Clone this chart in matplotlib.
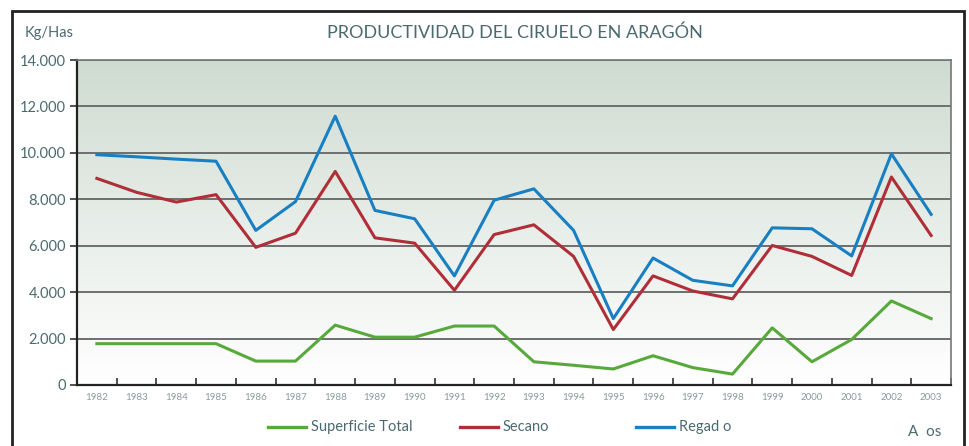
import numpy as np
import matplotlib.pyplot as plt
from matplotlib.patches import Rectangle
from matplotlib.lines import Line2D

years = [str(y) for y in range(1982, 2004)]
superficie = [1780, 1780, 1780, 1780, 1030, 1030, 2580, 2060, 2060, 2540, 2540,
              1000, 850, 690, 1260, 750, 470, 2460, 1000, 1960, 3620, 2860]
secano = [8900, 8300, 7880, 8200, 5930, 6540, 9200, 6340, 6110, 4080, 6480,
          6900, 5540, 2390, 4700, 4050, 3710, 6010, 5540, 4720, 8960, 6440]
regadio = [9920, 9830, 9730, 9640, 6660, 7900, 11580, 7520, 7160, 4700, 7960,
           8450, 6660, 2860, 5470, 4510, 4270, 6770, 6730, 5560, 9960, 7350]
yticks = [0, 2000, 4000, 6000, 8000, 10000, 12000, 14000]
ylabels = ['0', '2.000', '4.000', '6.000', '8.000', '10.000', '12.000', '14.000']

txt = '#4b6a6f'
green = '#57a93b'
red = '#b02e38'
blue = '#1880c2'

plt.rcParams['font.family'] = ['Lato', 'DejaVu Sans']

fig = plt.figure(figsize=(9.7, 4.46), dpi=100)
fig.patches.append(Rectangle((12/970, -0.05), (964-12)/970, 1-11/446+0.05,
                             transform=fig.transFigure, fill=False,
                             edgecolor='#222222', linewidth=2))

ax = fig.add_axes([77/970, 1-385/446, (951-77)/970, (385-60)/446])
x = np.arange(len(years))

# background gradient, greyish green at top fading to white
grad = np.linspace(0, 1, 256).reshape(-1, 1)
top = np.array([0.81, 0.86, 0.82])
img = top[None, None, :] * (1 - grad[:, :, None]) + np.ones(3)[None, None, :] * grad[:, :, None]
ax.imshow(img, extent=[-0.5, len(years)-0.5, 0, 14000], origin='upper',
          aspect='auto', zorder=0)

for v in yticks[1:]:
    ax.axhline(v, color='#6e6e6e', linewidth=1.4, zorder=1)

ax.plot(x, superficie, color=green, linewidth=2.2, zorder=3)
ax.plot(x, secano, color=red, linewidth=2.2, zorder=3)
ax.plot(x, regadio, color=blue, linewidth=2.2, zorder=3)

ax.set_xlim(-0.5, len(years)-0.5)
ax.set_ylim(0, 14000)
ax.set_yticks(yticks)
ax.set_yticklabels(ylabels, fontsize=10.5, color=txt)
ax.tick_params(axis='y', direction='out', length=5, width=1.2, color='#333333', pad=3)
ax.set_xticks(x)
ax.set_xticklabels(years, fontsize=7, color='#8a9a9c')
ax.set_xticks(np.arange(-0.5, len(years), 1), minor=True)
ax.tick_params(axis='x', which='major', length=0, pad=6)
ax.tick_params(axis='x', which='minor', direction='in', length=5, width=1.2, color='#333333')

for s in ['top', 'right']:
    ax.spines[s].set_color('#777777')
    ax.spines[s].set_linewidth(1.2)
for s in ['left', 'bottom']:
    ax.spines[s].set_color('#222222')
    ax.spines[s].set_linewidth(1.6)

fig.text(515/970, 1-33/446, 'PRODUCTIVIDAD DEL CIRUELO EN ARAGÓN', fontsize=13,
         color=txt, ha='center', va='center')
fig.text(25/970, 1-33/446, 'Kg/Has', fontsize=10.5, color=txt, ha='left', va='center')

legend_items = [(268, 'Superficie Total', green), (460, 'Secano', red), (636, 'Regad o', blue)]
ly = 1-427/446
for x0, label, col in legend_items:
    fig.add_artist(Line2D([x0/970, (x0+38)/970], [ly, ly], color=col, linewidth=2.4,
                          transform=fig.transFigure))
    fig.text((x0+43)/970, ly, label, fontsize=10.5, color=txt, ha='left', va='center')

fig.text(908/970, 1-432/446, 'A  os', fontsize=11, color=txt, ha='left', va='center')

plt.savefig('out.png', dpi=100)
